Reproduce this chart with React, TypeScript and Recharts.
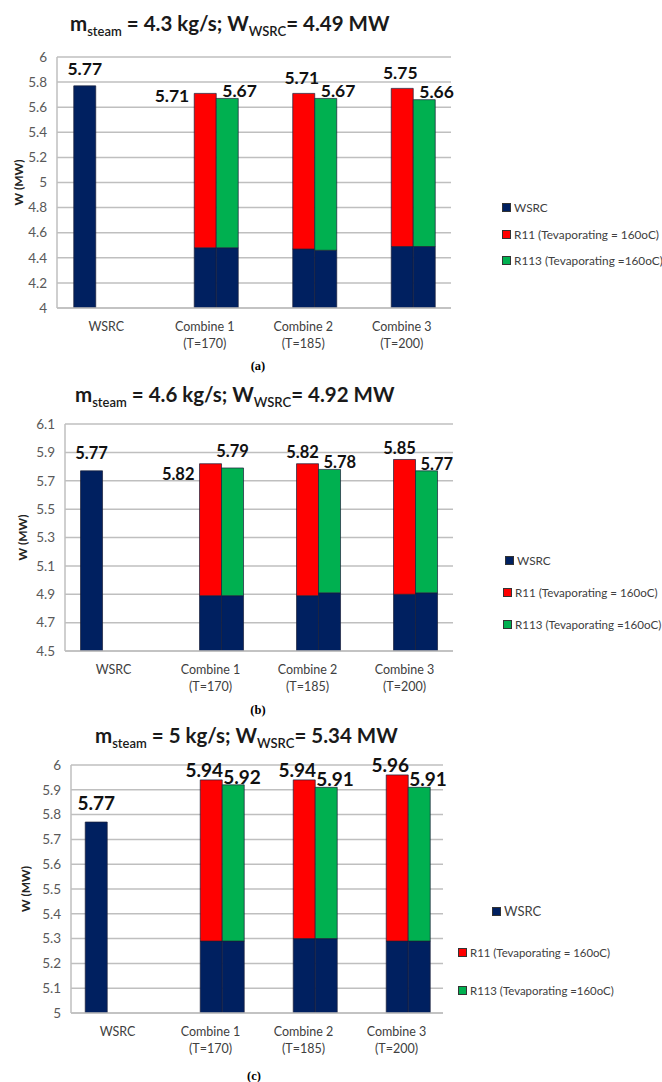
import { BarChart, Bar, XAxis, YAxis, CartesianGrid, LabelList } from 'recharts'

const categories = ['WSRC', 'Combine 1', 'Combine 2', 'Combine 3']
const temps = ['', '(T=170)', '(T=185)', '(T=200)']
const seriesNames = ['WSRC', 'R11 (Tevaporating = 160oC)', 'R113 (Tevaporating =160oC)']
const colors = ['#002060', '#FF0000', '#00B050']

// (a) m_steam = 4.3 kg/s
const wsrcA = [5.77, null, null, null]
const baseR11A = [null, 4.48, 4.47, 4.49]
const totR11A = [null, 5.71, 5.71, 5.75]
const baseR113A = [null, 4.48, 4.46, 4.49]
const totR113A = [null, 5.67, 5.67, 5.66]
const ticksA = [4, 4.2, 4.4, 4.6, 4.8, 5, 5.2, 5.4, 5.6, 5.8, 6]

// (b) m_steam = 4.6 kg/s
const wsrcB = [5.77, null, null, null]
const baseR11B = [null, 4.89, 4.89, 4.9]
const totR11B = [null, 5.82, 5.82, 5.85]
const baseR113B = [null, 4.89, 4.91, 4.91]
const totR113B = [null, 5.79, 5.78, 5.77]
const ticksB = [4.5, 4.7, 4.9, 5.1, 5.3, 5.5, 5.7, 5.9, 6.1]

// (c) m_steam = 5 kg/s
const wsrcC = [5.77, null, null, null]
const baseR11C = [null, 5.29, 5.3, 5.29]
const totR11C = [null, 5.94, 5.94, 5.96]
const baseR113C = [null, 5.29, 5.3, 5.29]
const totR113C = [null, 5.92, 5.91, 5.91]
const ticksC = [5, 5.1, 5.2, 5.3, 5.4, 5.5, 5.6, 5.7, 5.8, 5.9, 6]

const buildRows = (wsrc: any[], b11: any[], t11: any[], b113: any[], t113: any[]) =>
  categories.map((name, i) => ({
    name,
    temp: temps[i],
    wsrc: wsrc[i],
    base11: b11[i],
    r11: t11[i] != null ? t11[i] - b11[i] : null,
    tot11: t11[i],
    base113: b113[i],
    r113: t113[i] != null ? t113[i] - b113[i] : null,
    tot113: t113[i],
  }))

const panels = [
  {
    key: 'a',
    rows: buildRows(wsrcA, baseR11A, totR11A, baseR113A, totR113A),
    ticks: ticksA,
    plot: { left: 57, right: 451, top: 57, bottom: 308 },
    gap: '17%',
    title: { left: 70, top: 11, main: ['4.3 kg/s', '4.49 MW'] },
    yLabelX: 18,
    caption: { x: 258, y: 367, text: '(a)' },
    legend: { xs: [502, 502, 502], ys: [207, 234, 260], sizes: [11.8, 11.8, 11.8] },
    lab: { font: 17.5, wsrcDy: 17.7, redDy: 16.3, redDx: -2, sideDy: 2, greenDx: 6, greenDy: 8 },
    redPlace: ['', 'left', 'top', 'top'],
    greenPlace: ['', 'right', 'right', 'right'],
  },
  {
    key: 'b',
    rows: buildRows(wsrcB, baseR11B, totR11B, baseR113B, totR113B),
    ticks: ticksB,
    plot: { left: 65, right: 453, top: 424, bottom: 651 },
    gap: '16%',
    title: { left: 75, top: 382, main: ['4.6 kg/s', '4.92 MW'] },
    yLabelX: 22,
    caption: { x: 258, y: 711, text: '(b)' },
    legend: { xs: [505, 503, 503], ys: [560, 592, 624], sizes: [11.8, 11.6, 11.6] },
    lab: { font: 16.5, wsrcDy: 17.7, redDy: 11.3, redDx: -5, sideDy: 10.7, greenDx: 5, greenDy: 7 },
    redPlace: ['', 'left', 'top', 'top'],
    greenPlace: ['', 'top', 'right', 'right'],
  },
  {
    key: 'c',
    rows: buildRows(wsrcC, baseR11C, totR11C, baseR113C, totR113C),
    ticks: ticksC,
    plot: { left: 71, right: 443, top: 765, bottom: 1013 },
    gap: '15.3%',
    title: { left: 95, top: 723, main: ['5 kg/s', '5.34 MW'] },
    yLabelX: 25,
    caption: { x: 254, y: 1077, text: '(c)' },
    legend: { xs: [492, 458, 458], ys: [911, 952, 990], sizes: [13, 11.4, 11.4] },
    lab: { font: 19, wsrcDy: 19.4, redDy: 10.5, redDx: -7, sideDy: 0, greenDx: 1, greenDy: 8.5 },
    redPlace: ['', 'top', 'top', 'top'],
    greenPlace: ['', 'right', 'right', 'right'],
  },
]

const labelFont = 'Lato, "Open Sans", sans-serif'

const categoryOf = (p: any) => {
  const name = p?.payload?.name
  const i = categories.indexOf(name)
  // bars with empty values are skipped, so the first drawn red/green bar is Combine 1
  return i >= 0 ? i : p.index + 1
}

const makeLabel = (kind: string, panel: any) => (p: any) => {
  const { x, y, width, value } = p
  if (value == null || Number.isNaN(value)) return null
  const L = panel.lab
  const cat = categoryOf(p)
  let tx = x + width / 2
  let ty = y - L.wsrcDy
  let anchor = 'middle'
  if (kind === 'red') {
    if (panel.redPlace[cat] === 'left') {
      tx = x - 5
      ty = y + L.sideDy
      anchor = 'end'
    } else {
      tx = x + width / 2 + L.redDx
      ty = y - L.redDy
    }
  } else if (kind === 'green') {
    if (panel.greenPlace[cat] === 'top') {
      tx = x + width / 2
      ty = y - 16.6
    } else {
      tx = x + L.greenDx
      ty = y - L.greenDy
      anchor = 'start'
    }
  }
  return (
    <text x={tx} y={ty} textAnchor={anchor} dominantBaseline="central"
      fontFamily={labelFont} fontWeight={700} fontSize={L.font} fill="#111">
      {Number(value).toFixed(2)}
    </text>
  )
}

const CategoryTick = ({ x, y, payload, index, rows }: any) => {
  const row = rows[index] || {}
  return (
    <g>
      <text x={x} y={y + 23} textAnchor="middle" fontFamily={labelFont} fontSize={12.5} fill="#404040">
        {payload.value}
      </text>
      {row.temp ? (
        <text x={x} y={y + 40} textAnchor="middle" fontFamily={labelFont} fontSize={12.5} fill="#404040">
          {row.temp}
        </text>
      ) : null}
    </g>
  )
}

const Panel = ({ panel }: any) => {
  const { plot } = panel
  const padTop = 30
  const top = plot.top - padTop
  const height = plot.bottom - plot.top + padTop + 50
  const domain = [panel.ticks[0], panel.ticks[panel.ticks.length - 1]]
  const stroke = { stroke: '#1a1f3a', strokeWidth: 0.7 }
  return (
    <>
      <div style={{ position: 'absolute', left: panel.title.left, top: panel.title.top, fontFamily: labelFont, fontWeight: 700, fontSize: 20.5, color: '#1a1a1a', whiteSpace: 'nowrap' }}>
        m<sub style={{ fontSize: 13, fontWeight: 600 }}>steam</sub> = {panel.title.main[0]}; W<sub style={{ fontSize: 13, fontWeight: 600 }}>WSRC</sub>= {panel.title.main[1]}
      </div>
      <div style={{ position: 'absolute', left: 0, top }}>
        <BarChart width={662} height={height} data={panel.rows}
          margin={{ top: padTop, right: 662 - plot.right, bottom: 0, left: 0 }}
          barCategoryGap={panel.gap} barGap={0}>
          <CartesianGrid vertical={false} stroke="#BFBFBF" strokeWidth={1.5} />
          <XAxis dataKey="name" height={50} tickLine={false} tickSize={0} tickMargin={0}
            axisLine={{ stroke: '#BFBFBF', strokeWidth: 1.5 }} interval={0}
            tick={(props: any) => <CategoryTick {...props} rows={panel.rows} />} />
          <YAxis width={plot.left} domain={domain} ticks={panel.ticks} allowDataOverflow
            tickLine={false} tickSize={0} tickMargin={10} interval={0}
            axisLine={{ stroke: '#BFBFBF', strokeWidth: 1.5 }}
            tick={{ fill: '#595959', fontSize: 13.5, fontFamily: labelFont }}
            label={{
              content: ({ viewBox }: any) => (
                <text x={panel.yLabelX} y={viewBox.y + viewBox.height / 2} textAnchor="middle"
                  dominantBaseline="central" fontFamily={labelFont} fontWeight={700} fontSize={12} fill="#222"
                  transform={`rotate(-90 ${panel.yLabelX} ${viewBox.y + viewBox.height / 2})`}>
                  W (MW)
                </text>
              ),
            }} />
          <Bar dataKey="wsrc" stackId="w" fill={colors[0]} {...stroke} isAnimationActive={false}>
            <LabelList dataKey="wsrc" content={makeLabel('wsrc', panel)} />
          </Bar>
          <Bar dataKey="base11" stackId="r11" fill={colors[0]} {...stroke} isAnimationActive={false} />
          <Bar dataKey="r11" stackId="r11" fill={colors[1]} {...stroke} isAnimationActive={false}>
            <LabelList dataKey="tot11" content={makeLabel('red', panel)} />
          </Bar>
          <Bar dataKey="base113" stackId="r113" fill={colors[0]} {...stroke} isAnimationActive={false} />
          <Bar dataKey="r113" stackId="r113" fill={colors[2]} {...stroke} isAnimationActive={false}>
            <LabelList dataKey="tot113" content={makeLabel('green', panel)} />
          </Bar>
        </BarChart>
      </div>
      {seriesNames.map((name, i) => (
        <div key={name} style={{ position: 'absolute', left: panel.legend.xs[i], top: panel.legend.ys[i] - 8, height: 16, display: 'flex', alignItems: 'center', fontFamily: labelFont, fontSize: panel.legend.sizes[i], color: '#404040', whiteSpace: 'nowrap' }}>
          <span style={{ display: 'inline-block', width: 7, height: 7, background: colors[i], border: '0.5px solid #333', marginRight: 3 }} />
          {name}
        </div>
      ))}
      <div style={{ position: 'absolute', left: panel.caption.x - 15, width: 30, top: panel.caption.y - 8, textAlign: 'center', fontFamily: '"Liberation Serif", serif', fontWeight: 700, fontSize: 12.5 }}>
        {panel.caption.text}
      </div>
    </>
  )
}

export default function App() {
  return (
    <div style={{ position: 'absolute', left: 0, top: 0, width: 662, height: 1082, background: '#fff', overflow: 'hidden' }}>
      {panels.map((p) => <Panel key={p.key} panel={p} />)}
    </div>
  )
}
